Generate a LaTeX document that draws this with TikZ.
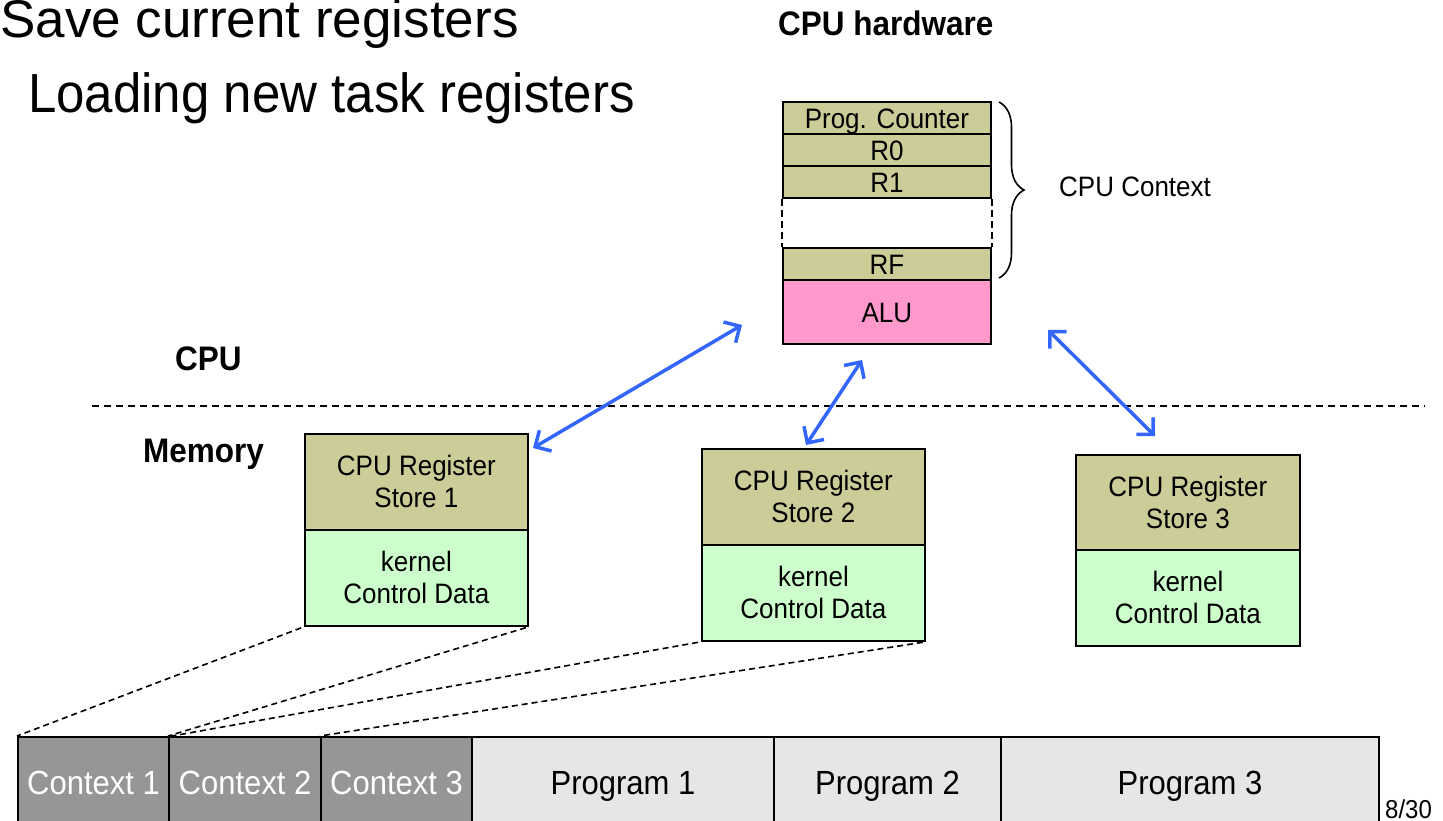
\documentclass[tikz,border=0pt]{standalone}
\usepackage{graphicx}
\usepackage{fontspec}
\setmainfont{Liberation Sans}
\usetikzlibrary{arrows.meta,decorations.pathreplacing}

\definecolor{regtan}{HTML}{CCCC99}
\definecolor{ctlgreen}{HTML}{CCFFCC}
\definecolor{alupink}{HTML}{FF99CC}
\definecolor{ctxgray}{HTML}{969696}
\definecolor{proggray}{HTML}{E6E6E6}
\definecolor{linkblue}{HTML}{3366FF}

% slightly tall lettering
\newcommand{\vs}[1]{\scalebox{1}[1.08]{#1}}
\newcommand{\twolines}[2]{\raisebox{-3.5pt}[\height][\depth]{\scalebox{1}[1.08]{\begin{tabular}{@{}c@{}}#1\\#2\end{tabular}}}}

\tikzset{
  boxtxt/.style={font=\fontsize{26}{29.6}\selectfont},
  regrow/.style={draw, line width=1.8pt, fill=regtan, minimum width=208pt,
    minimum height=32pt, anchor=north west, inner sep=0pt, boxtxt,
    text height=20.5pt, text depth=-1.5pt},
  storebox/.style={draw, line width=1.8pt, fill=regtan, minimum height=96pt,
    anchor=north west, inner sep=0pt, boxtxt},
  ctrlbox/.style={storebox, fill=ctlgreen},
  ctxcell/.style={draw, line width=2pt, fill=ctxgray, text=white,
    minimum height=90pt, anchor=north west, inner sep=0pt,
    font=\fontsize{31}{35}\selectfont, text height=24.4pt, text depth=0pt},
  progcell/.style={ctxcell, fill=proggray, text=black},
  heading/.style={anchor=base west, inner sep=0pt},
  link/.style={linkblue, line width=3.5pt,
    {Straight Barb[length=12pt,width=24pt,line width=3.5pt]}-{Straight Barb[length=12pt,width=24pt,line width=3.5pt]}},
  memlink/.style={line width=1.6pt, dash pattern=on 6pt off 4pt, shorten <=3pt},
}

\begin{document}
\begin{tikzpicture}[x=1pt, y=-1pt]
\useasboundingbox (0,0) rectangle (1443,821);

% title lines
\node[heading, font=\fontsize{53}{60}\selectfont] (save) at (0,38) {Save current registers};
\node[heading, font=\fontsize{51}{58}\selectfont] (load) at (28,113) {\vs{Loading new task registers}};

% CPU hardware
\node[heading, font=\fontsize{31.5}{36}\selectfont\bfseries] (hw) at (778,36) {\vs{CPU hardware}};
\node[regrow] (pc) at (782,101) {\vs{Prog. Counter}};
\node[regrow] (r0) at (782,133) {\vs{R0}};
\node[regrow] (r1) at (782,165) {\vs{R1}};
\node[regrow] (rf) at (782,247) {\vs{RF}};
\node[regrow, fill=alupink, minimum height=64pt] (alu) at (782,279) {\vs{ALU}};
\draw[line width=1.8pt, dash pattern=on 7pt off 4pt] (r1.south west) -- (rf.north west);
\draw[line width=1.8pt, dash pattern=on 7pt off 4pt] (r1.south east) -- (rf.north east);

% context brace
\coordinate (bt) at (999,102);
\coordinate (bb) at (999,278);
\draw[line width=1.6pt, decorate, decoration={brace, amplitude=25pt, aspect=0.5}] (bt) -- (bb);
\node[heading, boxtxt] (ctxlbl) at (1059,197) {\vs{CPU Context}};

% CPU / memory divide
\node[heading, font=\fontsize{31.5}{36}\selectfont\bfseries] (cpu) at (175,370) {\vs{CPU}};
\node[heading, font=\fontsize{31.5}{36}\selectfont\bfseries] (mem) at (143,462) {\vs{Memory}};
\coordinate (sepL) at (92,406);
\coordinate (sepR) at (1425,406);
\draw[line width=1.6pt, dash pattern=on 7pt off 5pt] (sepL) -- (sepR);

% register stores in memory
\node[storebox, minimum width=223pt] (st1) at (304,433) {\twolines{CPU Register}{Store 1}};
\node[ctrlbox, minimum width=223pt] (kd1) at (304,529) {\twolines{kernel}{Control Data}};
\node[storebox, minimum width=223pt] (st2) at (701,448) {\twolines{CPU Register}{Store 2}};
\node[ctrlbox, minimum width=223pt] (kd2) at (701,544) {\twolines{kernel}{Control Data}};
\node[storebox, minimum width=224pt, minimum height=95pt] (st3) at (1075,454) {\twolines{CPU Register}{Store 3}};
\node[ctrlbox, minimum width=224pt] (kd3) at (1075,549) {\twolines{kernel}{Control Data}};

% save / load transfers
\coordinate (a1s) at (533,448);
\coordinate (a1e) at (742,325);
\coordinate (a2s) at (806,445);
\coordinate (a2e) at (862,360);
\coordinate (a3s) at (1155,436);
\coordinate (a3e) at (1048,330);
\draw[link] (a1s) -- (a1e);
\draw[link] (a2s) -- (a2e);
\draw[link] (a3s) -- (a3e);

% memory layout bar
\node[ctxcell, minimum width=151pt] (c1) at (17,736) {\vs{Context 1}};
\node[ctxcell, minimum width=152pt] (c2) at (168,736) {\vs{Context 2}};
\node[ctxcell, minimum width=151pt] (c3) at (320,736) {\vs{Context 3}};
\node[progcell, minimum width=302pt] (p1) at (471,736) {\vs{Program 1}};
\node[progcell, minimum width=227pt] (p2) at (773,736) {\vs{Program 2}};
\node[progcell, minimum width=378pt] (p3) at (1000,736) {\vs{Program 3}};

% where the control data lives
\draw[memlink] (kd1.south west) -- (c1.north west);
\draw[memlink] (kd1.south east) -- (c2.north west);
\draw[memlink] (kd2.south west) -- ([xshift=4pt]c2.north west);
\draw[memlink] (kd2.south east) -- (c3.north west);

% page number
\node[heading, font=\fontsize{24}{28}\selectfont] (page) at (1385,818) {\vs{8/30}};
\end{tikzpicture}
\end{document}
